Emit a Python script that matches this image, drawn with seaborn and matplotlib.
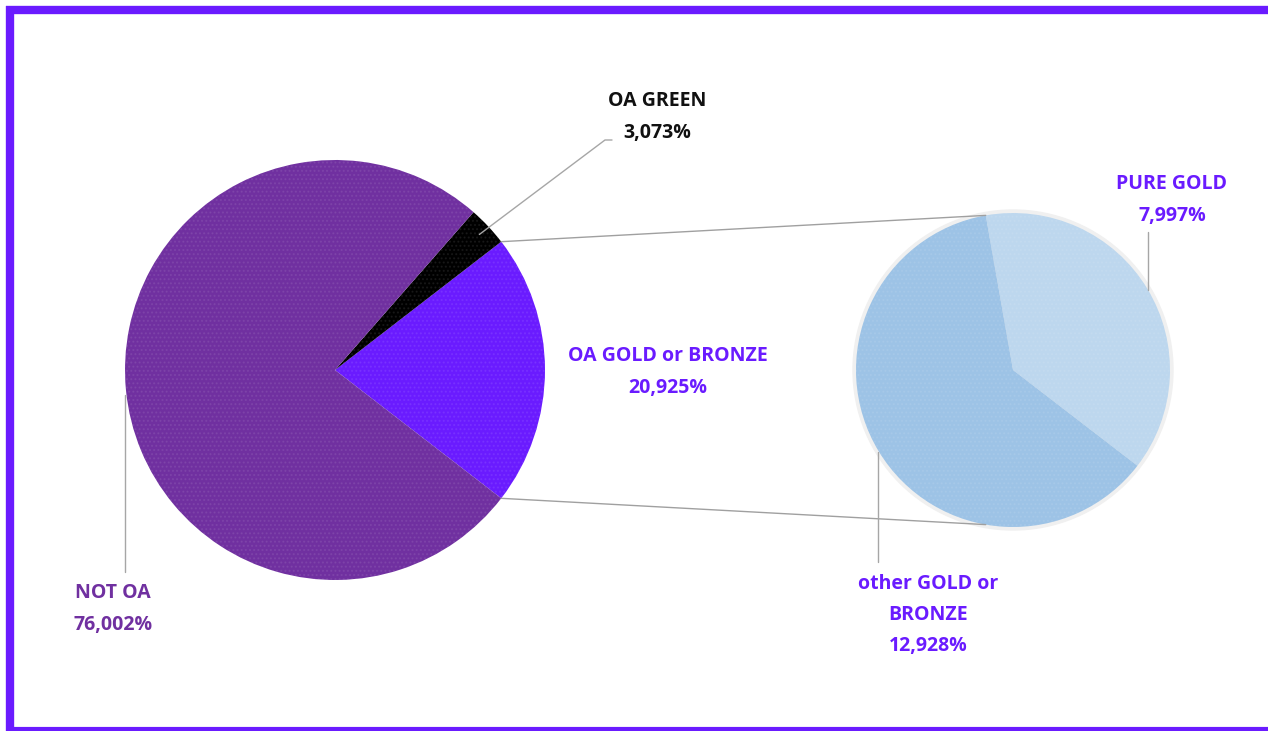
import matplotlib
matplotlib.use("Agg")
import matplotlib.pyplot as plt
import seaborn as sns
import numpy as np
from matplotlib.lines import Line2D

# dados
main_labels = ["OA GOLD or BRONZE", "OA GREEN", "NOT OA"]
main_values = [20.925, 3.073, 76.002]
main_colors = ["#6a1bff", "#000000", "#7030a0"]

sub_labels = ["PURE GOLD", "other GOLD or\nBRONZE"]
sub_values = [7.997, 12.928]
sub_colors = ["#bdd7ee", "#9dc3e6"]

sns.set_theme(style="white")
plt.rcParams['font.family'] = ['Open Sans', 'DejaVu Sans']

W, H = 1268, 731
fig = plt.figure(figsize=(W / 100, H / 100), dpi=100)
ax = fig.add_axes([0, 0, 1, 1])

c1, r1 = (335, 361), 210
c2, r2 = (1013, 361), 157

# pizza principal, fatia OA GOLD centrada em 0 graus
start1 = -main_values[0] / 100 * 360 / 2
w1, _ = ax.pie(main_values, colors=main_colors, startangle=start1, counterclock=True,
               center=c1, radius=r1, frame=True, wedgeprops=dict(linewidth=0))

# pizza secundaria
sub_total = sum(sub_values)
start2 = 100 - sub_values[0] / sub_total * 360
ax.add_patch(plt.Circle(c2, r2 + 3, color="#f0f0f0", zorder=0))
w2, _ = ax.pie(sub_values, colors=sub_colors, startangle=start2, counterclock=True,
               center=c2, radius=r2, frame=True, wedgeprops=dict(linewidth=0))
ax.set_xlim(0, W)
ax.set_ylim(0, H)
ax.set_aspect("equal")
ax.axis("off")

# textura pontilhada
for w in list(w1) + list(w2):
    ax.add_patch(matplotlib.patches.Wedge(w.center, w.r, w.theta1, w.theta2, facecolor="none",
                                          edgecolor=(1, 1, 1, 0.08), hatch="....", linewidth=0))

def pt(c, r, ang):
    a = np.deg2rad(ang)
    return c[0] + r * np.cos(a), c[1] + r * np.sin(a)

# linhas de conexao
gold = w1[0]
p_top = pt(c1, r1, gold.theta2)
p_bot = pt(c1, r1, gold.theta1)
q_top = pt(c2, r2, 100)
q_bot = pt(c2, r2, -100)
ax.plot([p_top[0], q_top[0]], [p_top[1], q_top[1]], color="#a0a0a0", lw=1)
ax.plot([p_bot[0], q_bot[0]], [p_bot[1], q_bot[1]], color="#a0a0a0", lw=1)

lc = "#a6a6a6"
# linhas guia
g = pt(c1, r1 - 12, (w1[1].theta1 + w1[1].theta2) / 2)
ax.plot([g[0], 605, 612], [g[1], H - 140, H - 140], color=lc, lw=1)
ax.plot([125, 125], [H - 395, H - 572], color=lc, lw=1)
ax.plot([1148, 1148], [H - 232, H - 290], color=lc, lw=1)
ax.plot([878, 878], [H - 452, H - 562], color=lc, lw=1)

def fmt(v):
    return f"{v:.3f}%".replace(".", ",")

kw = dict(ha="center", va="center", fontsize=14, fontweight="bold", linespacing=1.75)
ax.text(657, H - 117, main_labels[1] + "\n" + fmt(main_values[1]), color="#111111", **kw)
ax.text(668, H - 372, main_labels[0] + "\n" + fmt(main_values[0]), color="#6a1bff", **kw)
ax.text(113, H - 609, main_labels[2] + "\n" + fmt(main_values[2]), color="#7030a0", **kw)
ax.text(1172, H - 200, sub_labels[0] + "\n" + fmt(sub_values[0]), color="#6a1bff", **kw)
ax.text(928, H - 615, sub_labels[1] + "\n" + fmt(sub_values[1]), color="#6a1bff", **kw)

# moldura
bc = "#6a1bff"
lkw = dict(color=bc, transform=fig.transFigure, solid_capstyle="butt")
fig.add_artist(Line2D([6 / W, 1], [1 - 10 / H, 1 - 10 / H], lw=6, **lkw))
fig.add_artist(Line2D([10 / W, 10 / W], [1 - 6 / H, 0], lw=6, **lkw))
fig.add_artist(Line2D([6 / W, 1], [2 / H, 2 / H], lw=3, **lkw))

fig.savefig("out.png", dpi=100, facecolor="white")
